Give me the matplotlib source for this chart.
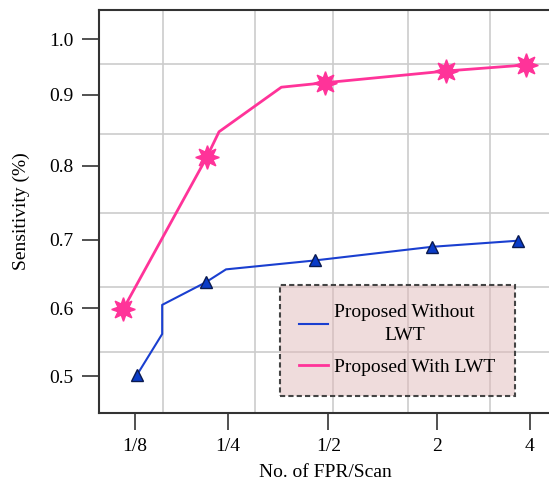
import numpy as np
import matplotlib
matplotlib.use('Agg')
import matplotlib.pyplot as plt

plt.rcParams['font.family'] = 'Liberation Serif'
plt.rcParams['font.size'] = 14

# FPR per scan / sensitivity
fpr_without = [0.1273, 0.1615, 0.1615, 0.2200, 0.2473, 0.4656, 1.931, 3.755]
sens_without = [0.501, 0.562, 0.605, 0.638, 0.657, 0.670, 0.690, 0.699]
marks_without = [0, 3, 5, 6, 7]

fpr_with = [0.1093, 0.2214, 0.2379, 0.3829, 0.4918, 2.194, 3.927]
sens_with = [0.599, 0.812, 0.848, 0.914, 0.922, 0.943, 0.954]
marks_with = [0, 1, 4, 5, 6]

x_ticks = [1/8, 1/4, 1/2, 2, 4]
x_labels = ['1/8', '1/4', '1/2', '2', '4']
y_ticks = [0.5, 0.6, 0.7, 0.8, 0.9, 1.0]
y_labels = ['0.5', '0.6', '0.7', '0.8', '0.9', '1.0']

# grid lines do not sit on the ticks in the original
x_grid = [0.1626, 0.3173, 0.565, 1.603, 3.146]
y_grid = [0.5355, 0.6316, 0.7367, 0.8448, 0.9557]

# the axes are not linear: piecewise mapping between ticks
XV = np.array([0, 1/8, 1/4, 1/2, 2, 4, 6])
XP = np.array([42, 135, 228, 328.3, 436.7, 529.7, 622.7])
YV = np.array([0.4, 0.5, 0.6, 0.7, 0.8, 0.9, 1.0, 1.1])
YP = np.array([44, 112, 179.7, 248, 322.3, 393, 448.7, 504.4])

def xfwd(v):
    return np.interp(v, XV, XP)

def xinv(p):
    return np.interp(p, XP, XV)

def yfwd(v):
    return np.interp(v, YV, YP)

def yinv(p):
    return np.interp(p, YP, YV)

fig = plt.figure(figsize=(5.49, 4.88), dpi=100)
ax = fig.add_axes([0.1798, 0.1543, 0.824, 0.8242])
ax.set_xscale('function', functions=(xfwd, xinv))
ax.set_yscale('function', functions=(yfwd, yinv))

ax.plot(fpr_without, sens_without, color='#1a3fd0', lw=1.5, marker='^', ms=9,
        mfc='#0a3cc8', mec='#0a1a50', mew=1, markevery=marks_without,
        label='Proposed Without\nLWT', zorder=3)
ax.plot(fpr_with, sens_with, color='#ff3399', lw=2, marker=(8, 1, 0), ms=17,
        mfc='#ff3399', mec='#ff3399', markevery=marks_with,
        label='Proposed With LWT', zorder=3)

ax.set_xlim(xinv(98.7), xinv(551))
ax.set_ylim(yinv(75.3), yinv(477.5))

ax.set_xticks(x_ticks)
ax.set_xticklabels(x_labels)
ax.set_yticks(y_ticks)
ax.set_yticklabels(y_labels)
ax.set_xticks(x_grid, minor=True)
ax.set_yticks(y_grid, minor=True)
ax.grid(which='minor', color='#cccccc', lw=1.2)
ax.grid(which='major', visible=False)
ax.tick_params(which='minor', length=0)
ax.tick_params(which='major', length=12, width=1.2, color='#333333', pad=6)
ax.set_axisbelow(True)

ax.spines['right'].set_visible(False)
for s in ['left', 'bottom', 'top']:
    ax.spines[s].set_color('#333333')
    ax.spines[s].set_linewidth(1.5)

ax.set_xlabel('No. of FPR/Scan', labelpad=7)
ax.set_ylabel('Sensitivity (%)', labelpad=14)

leg = ax.legend(loc='upper left', bbox_to_anchor=(0.400, 0.318), borderaxespad=0,
                fancybox=False, borderpad=1.0, handlelength=1.5,
                handletextpad=0.3, labelspacing=0.75)
frame = leg.get_frame()
frame.set_alpha(None)
frame.set_facecolor((0.88, 0.73, 0.73, 0.5))
frame.set_edgecolor('#444444')
frame.set_linestyle((0, (2.5, 1.5)))
frame.set_linewidth(1.5)
for t in leg.get_texts():
    t.set_multialignment('center')
    t.set_linespacing(1.45)
for h in leg.legend_handles:
    h.set_marker('')

fig.savefig('out.png', dpi=100)
